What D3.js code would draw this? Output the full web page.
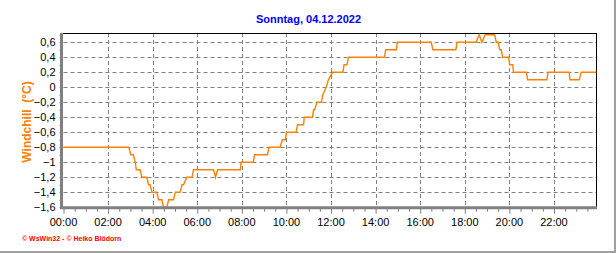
<!DOCTYPE html>
<html>
<head>
<meta charset="utf-8">
<script src="https://cdn.jsdelivr.net/npm/d3@7"></script>
<style>
  body { margin: 0; background: #fff; }
  svg { display: block; font-family: "Liberation Sans", Arial, sans-serif; }
</style>
</head>
<body>
<svg id="chart" width="616" height="253"></svg>
<script>
// ============= Data =============

const chartTitle = "Sonntag, 04.12.2022";
const yAxisTitle = "Windchill  (°C)";
const footerText = "© WsWin32 - © Heiko Blödorn";

const xTickLabels = ["00:00", "02:00", "04:00", "06:00", "08:00", "10:00", "12:00", "14:00", "16:00", "18:00", "20:00", "22:00"];
const yTickValues = [0.6, 0.4, 0.2, 0, -0.2, -0.4, -0.6, -0.8, -1, -1.2, -1.4, -1.6];

// windchill turning points
const windTimes = [
  "00:00", "02:56", "03:01", "03:08", "03:13", "03:16", "03:26", "03:31", "03:44", "03:49",
  "03:53", "03:58", "04:11", "04:16", "04:25", "04:29", "04:38", "04:43", "04:56", "05:01",
  "05:14", "05:19", "05:23", "05:32", "05:46", "05:50", "06:44", "06:49", "06:55", "07:56",
  "07:58", "08:31", "08:34", "09:09", "09:13", "09:43", "09:49", "09:57", "10:00", "10:26",
  "10:30", "10:46", "10:48", "11:10", "11:13", "11:16", "11:22", "11:34", "11:38", "11:47",
  "11:53", "12:04", "12:32", "12:35", "12:43", "12:47", "14:24", "14:27", "14:56", "14:58",
  "16:30", "16:34", "17:36", "17:39", "18:30", "18:39", "18:46", "18:55", "19:20", "19:25",
  "19:30", "19:34", "19:38", "19:42", "19:58", "20:01", "20:09", "20:11", "20:46", "20:49",
  "21:41", "21:44", "22:41", "22:43", "23:08", "23:13", "23:54",
];
const windValues = [
  -0.8, -0.8, -0.9, -0.9, -1.0, -1.1, -1.1, -1.2, -1.2, -1.3,
  -1.3, -1.4, -1.4, -1.5, -1.5, -1.6, -1.6, -1.5, -1.5, -1.4,
  -1.4, -1.3, -1.3, -1.2, -1.2, -1.1, -1.1, -1.2, -1.1, -1.1,
  -1.0, -1.0, -0.9, -0.9, -0.8, -0.8, -0.7, -0.7, -0.6, -0.6,
  -0.5, -0.5, -0.4, -0.4, -0.3, -0.3, -0.2, -0.2, -0.1, 0.0,
  0.1, 0.2, 0.2, 0.3, 0.3, 0.4, 0.4, 0.5, 0.5, 0.6,
  0.6, 0.5, 0.5, 0.6, 0.6, 0.7, 0.6, 0.7, 0.7, 0.6,
  0.6, 0.5, 0.5, 0.4, 0.4, 0.3, 0.3, 0.2, 0.2, 0.1,
  0.1, 0.2, 0.2, 0.1, 0.1, 0.2, 0.2,
];

// ============= Layout =============

const GRID = "#808080";
const LINE = "#ff8000";
const PLOT = { left: 63.5, right: 597, top: 33, bottom: 207.3 };

const toHours = (s) => {
  const [h, m] = s.split(":").map(Number);
  return h + m / 60;
};

const points = windTimes.map((t, i) => ({ hour: toHours(t), value: windValues[i] }));

const svg = d3.select("#chart");

const xScale = d3.scaleLinear().domain([0, 23.93]).range([PLOT.left, PLOT.right]);
const yScale = d3.scaleLinear().domain([-1.6, 0.724]).range([PLOT.bottom, PLOT.top]);

// outer frame (right and bottom edges)
svg.append("line").attr("x1", 615).attr("x2", 615).attr("y1", 0).attr("y2", 253)
  .attr("stroke", "#a0a0a0").attr("stroke-width", 2);
svg.append("line").attr("x1", 0).attr("x2", 616).attr("y1", 252).attr("y2", 252)
  .attr("stroke", "#a0a0a0").attr("stroke-width", 2);

// title
svg.append("text")
  .attr("x", 308.5).attr("y", 23)
  .attr("text-anchor", "middle")
  .style("font-size", "11px").style("font-weight", "bold").style("fill", "#0000ff")
  .text(chartTitle);

// grid lines
const xTickHours = xTickLabels.map(toHours);

svg.append("g").selectAll("line")
  .data(yTickValues.filter((v) => v > -1.6))
  .enter().append("line")
  .attr("x1", PLOT.left).attr("x2", PLOT.right)
  .attr("y1", (d) => Math.round(yScale(d)) + 0.5).attr("y2", (d) => Math.round(yScale(d)) + 0.5)
  .attr("stroke", GRID).attr("stroke-dasharray", "4,3");

svg.append("g").selectAll("line")
  .data(xTickHours.filter((h) => h > 0))
  .enter().append("line")
  .attr("x1", (d) => Math.round(xScale(d)) + 0.5).attr("x2", (d) => Math.round(xScale(d)) + 0.5)
  .attr("y1", PLOT.top).attr("y2", PLOT.bottom)
  .attr("stroke", GRID).attr("stroke-dasharray", "4,3");

// plot border (top and right)
svg.append("line").attr("x1", 61).attr("x2", 597).attr("y1", 33.5).attr("y2", 33.5)
  .attr("stroke", "#000");
svg.append("line").attr("x1", 596.5).attr("x2", 596.5).attr("y1", 33).attr("y2", 208)
  .attr("stroke", "#000");

// windchill line
const line = d3.line()
  .x((d) => xScale(d.hour))
  .y((d) => yScale(d.value));

svg.append("path")
  .datum(points)
  .attr("d", line)
  .attr("fill", "none")
  .attr("stroke", LINE)
  .attr("stroke-width", 1.4);

// Y-axis
const yAxis = svg.append("g").attr("transform", "translate(61.5,0)")
  .call(d3.axisLeft(yScale)
    .tickValues(d3.range(-16, 8).map((i) => i / 10))
    .tickSize(2)
    .tickFormat(""));
yAxis.select(".domain").attr("d", `M0,${PLOT.top}V${PLOT.bottom + 1.5}`)
  .attr("stroke", GRID).attr("stroke-width", 3);
yAxis.selectAll(".tick line").attr("stroke", GRID);

svg.append("g").selectAll("text")
  .data(yTickValues)
  .enter().append("text")
  .attr("x", 55.5)
  .attr("y", (d) => yScale(d) + 4)
  .attr("text-anchor", "end")
  .style("font-size", "11px").style("fill", "#000")
  .text((d) => d3.format(".1~f")(d).replace(".", ","));

// X-axis
const xAxis = svg.append("g").attr("transform", `translate(0,${PLOT.bottom + 0.5})`)
  .call(d3.axisBottom(xScale)
    .tickValues(d3.range(0, 48).map((i) => i / 2))
    .tickSize(4)
    .tickFormat(""));
xAxis.select(".domain").attr("d", `M60,0H597`)
  .attr("stroke", GRID).attr("stroke-width", 3);
xAxis.selectAll(".tick line")
  .attr("stroke", GRID)
  .attr("y2", (d) => (d % 2 === 0 ? 6 : 4));

svg.append("g").selectAll("text")
  .data(xTickLabels)
  .enter().append("text")
  .attr("x", (d) => xScale(toHours(d)))
  .attr("y", 226)
  .attr("text-anchor", "middle")
  .style("font-size", "11px").style("fill", "#000")
  .text((d) => d);

// Y-axis label
svg.append("text")
  .attr("transform", "translate(31,122) rotate(-90)")
  .attr("text-anchor", "middle")
  .style("font-size", "12px").style("font-weight", "bold").style("fill", LINE)
  .style("white-space", "pre")
  .text(yAxisTitle);

// footer
svg.append("text")
  .attr("x", 22).attr("y", 241)
  .style("font-size", "7px").style("font-weight", "bold").style("fill", "#ff0000")
  .text(footerText);
</script>
</body>
</html>
